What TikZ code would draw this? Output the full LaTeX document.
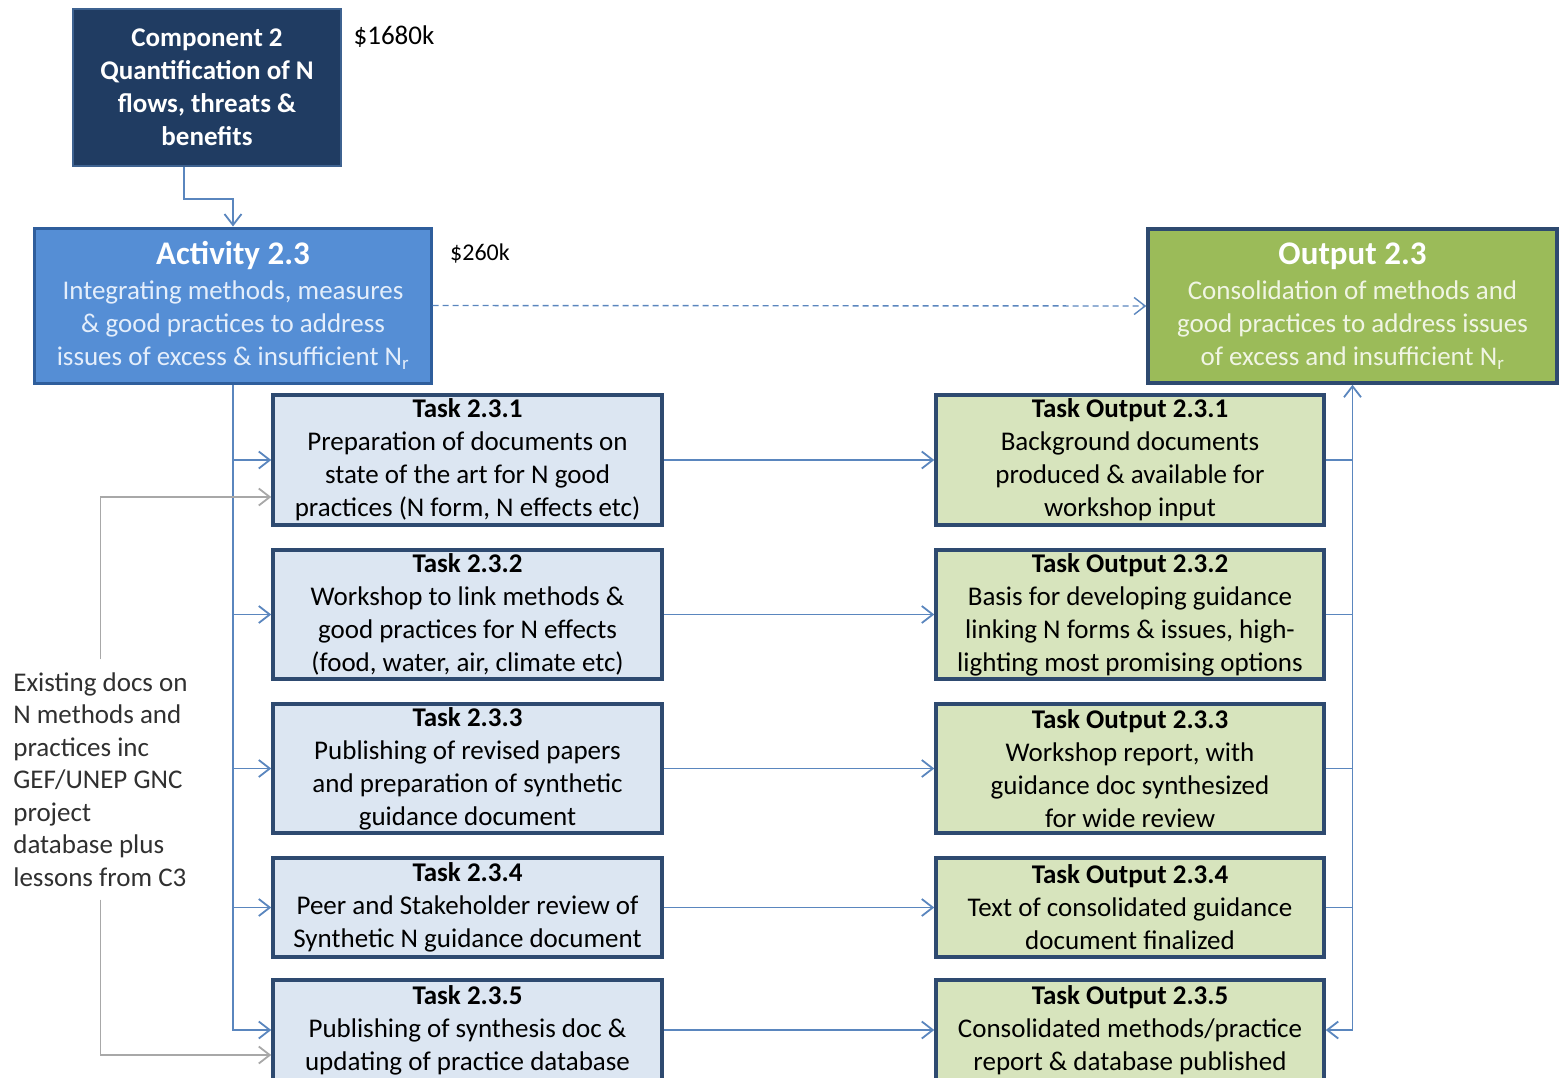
\documentclass[tikz,border=0pt]{standalone}
\usepackage{fontspec}
\setmainfont{Carlito}
\usepackage{xcolor}
\usetikzlibrary{arrows.meta}
\definecolor{compfill}{HTML}{203C62}
\definecolor{compline}{HTML}{3E6290}
\definecolor{actfill}{HTML}{558ED5}
\definecolor{actline}{HTML}{2F5E9C}
\definecolor{acttext}{HTML}{E4EEFB}
\definecolor{outfill}{HTML}{9BBB59}
\definecolor{outtext}{HTML}{F0F5E4}
\definecolor{boxline}{HTML}{2E4A70}
\definecolor{taskfill}{HTML}{DCE6F2}
\definecolor{toutfill}{HTML}{D7E4BD}
\definecolor{connblue}{HTML}{5A86BE}
\definecolor{docgray}{HTML}{A8A8A8}
\definecolor{doctext}{HTML}{303030}

\begin{document}
\begin{tikzpicture}[x=1bp, y=-1bp,
        every node/.style={font=\fontsize{27bp}{33bp}\selectfont, align=center},
        taskbox/.style={draw=boxline, line width=3.5bp, fill=taskfill, minimum width=389bp, inner sep=1bp},
        toutbox/.style={draw=boxline, line width=3.5bp, fill=toutfill, minimum width=388bp, inner sep=1bp},
        conn/.style={draw=connblue, line width=1.8bp},
        docline/.style={draw=docgray, line width=1.8bp},
        arr/.style={-{Straight Barb[length=11bp, width=17bp]}}]
        \useasboundingbox (0, 0) rectangle (1559, 1077);
        	% Top boxes:
        	\node[draw=compline, fill=compfill, line width=2.5bp, minimum width=268bp, minimum height=157bp, text=white, font=\fontsize{27bp}{33bp}\selectfont\bfseries](comp) at (207, 87.5){Component 2\\Quantification of N\\flows, threats \&\\benefits};
        	\node(cost1) at (394, 37){\$1680k};
        	\node[draw=actline, fill=actfill, line width=3bp, minimum width=396bp, minimum height=155bp, text=acttext](act) at (233, 305.5){{\fontsize{33bp}{33bp}\selectfont\bfseries\color{white}Activity 2.3}\\[2bp]Integrating methods, measures\\\& good practices to address\\issues of excess \& insufficient N\textsubscript{r}};
        	\node[font=\fontsize{24bp}{30bp}\selectfont](cost2) at (480, 253){\$260k};
        	\node[draw=boxline, fill=outfill, line width=3.5bp, minimum width=409bp, minimum height=154bp, text=outtext](out) at (1352.5, 306){{\fontsize{33bp}{33bp}\selectfont\bfseries\color{white}Output 2.3}\\[2bp]Consolidation of methods and\\good practices to address issues\\of excess and insufficient N\textsubscript{r}};
        	% Tasks:
        	\node[taskbox, minimum height=130bp](T1) at (467.5, 460){\textbf{Task 2.3.1}\\Preparation of documents on\\state of the art for N good\\practices (N form, N effects etc)};
        	\node[taskbox, minimum height=129bp](T2) at (467.5, 614.5){\textbf{Task 2.3.2}\\Workshop to link methods \&\\good practices for N effects\\(food, water, air, climate etc)};
        	\node[taskbox, minimum height=129bp](T3) at (467.5, 768.5){\textbf{Task 2.3.3}\\Publishing of revised papers\\and preparation of synthetic\\guidance document};
        	\node[taskbox, minimum height=99bp](T4) at (467.5, 907.5){\textbf{Task 2.3.4}\\Peer and Stakeholder review of\\Synthetic N guidance document};
        	\node[taskbox, minimum height=100bp](T5) at (467.5, 1030){\textbf{Task 2.3.5}\\Publishing of synthesis doc \&\\updating of practice database};
        	% Task outputs:
        	\node[toutbox, minimum height=130bp](O1) at (1130, 460){\textbf{Task Output 2.3.1}\\Background documents\\produced \& available for\\workshop input};
        	\node[toutbox, minimum height=129bp](O2) at (1130, 614.5){\textbf{Task Output 2.3.2}\\Basis for developing guidance\\linking N forms \& issues, high-\\lighting most promising options};
        	\node[toutbox, minimum height=129bp](O3) at (1130, 768.5){\textbf{Task Output 2.3.3}\\Workshop report, with\\guidance doc synthesized\\for wide review};
        	\node[toutbox, minimum height=99bp](O4) at (1130, 907.5){\textbf{Task Output 2.3.4}\\Text of consolidated guidance\\document finalized};
        	\node[toutbox, minimum height=100bp](O5) at (1130, 1030){\textbf{Task Output 2.3.5}\\Consolidated methods/practice\\report \& database published};
        	% Existing docs:
        	\node[align=left, text=doctext, inner xsep=0bp, inner ysep=13bp, font=\fontsize{27bp}{32.5bp}\selectfont](docs) at (100.5, 779.5){Existing docs on\\N methods and\\practices inc\\GEF/UNEP GNC\\project\\database plus\\lessons from C3};
        	% Connectors:
        	\draw[conn, arr] ([xshift=-23bp]comp.south) -- ++(0, 32) -| (act.north);
        	\draw[conn, arr, line width=1.4bp, dash pattern=on 6bp off 4bp] (act.east) -- (out.west);
        	\draw[conn, arr] (act.south) |- (T5.west);
        	\foreach \i in {1,...,4} \draw[conn, arr] (act.south |- T\i.west) -- (T\i.west);
        	\foreach \i in {1,...,5} \draw[conn, arr] (T\i.east) -- (O\i.west);
        	\draw[conn, {Straight Barb[length=11bp, width=17bp]}-{Straight Barb[length=11bp, width=17bp]}] (O5.east) -| (out.south);
        	\foreach \i in {1,...,4} \draw[conn] (O\i.east) -- (O\i.east -| out.south);
        	\draw[docline, arr] (docs.north) |- ([yshift=-37bp]T1.west);
        	\draw[docline, arr] (docs.south) |- ([yshift=-25bp]T5.west);
\end{tikzpicture}
\end{document}
